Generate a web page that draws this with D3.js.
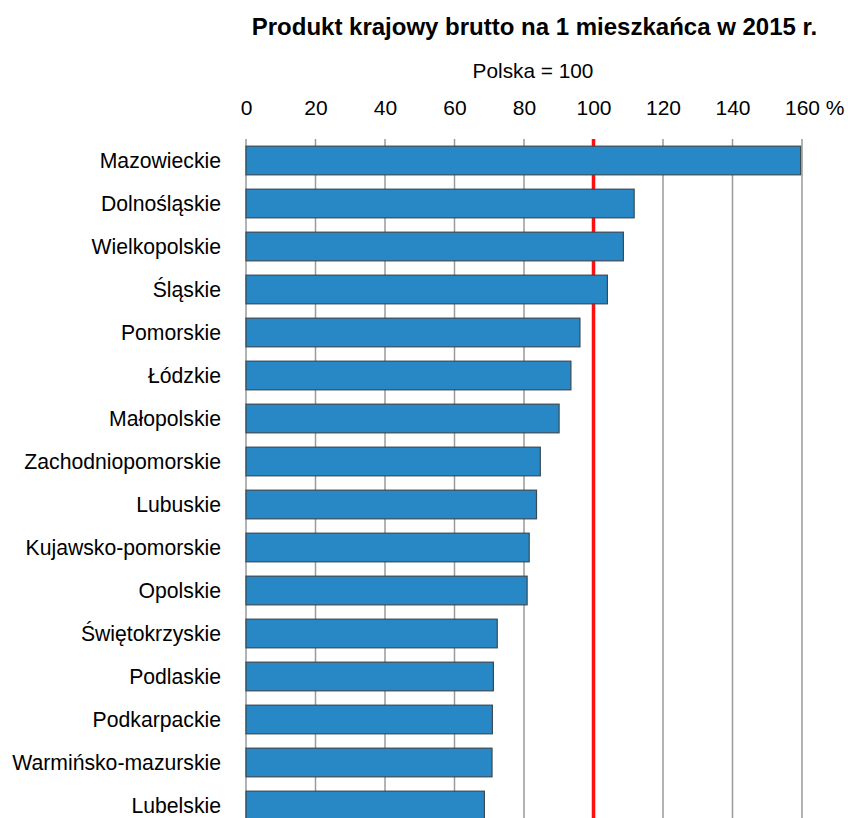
<!DOCTYPE html>
<html>
<head>
<meta charset="utf-8">
<script src="https://cdn.jsdelivr.net/npm/d3@7"></script>
<style>
  body { margin: 0; background: #fff; }
  text { font-family: "Liberation Sans", Arial, sans-serif; fill: #000; }
</style>
</head>
<body>
<script>
const regions = ['Mazowieckie', 'Dolnośląskie', 'Wielkopolskie', 'Śląskie', 'Pomorskie',
    'Łódzkie', 'Małopolskie', 'Zachodniopomorskie', 'Lubuskie', 'Kujawsko-pomorskie',
    'Opolskie', 'Świętokrzyskie', 'Podlaskie', 'Podkarpackie', 'Warmińsko-mazurskie', 'Lubelskie'];
const gdpIndex = [159.6, 111.7, 108.6, 104.0, 96.1, 93.5, 90.1, 84.7, 83.6, 81.5,
    80.9, 72.3, 71.2, 70.9, 70.8, 68.6];
const tickValues = [0, 20, 40, 60, 80, 100, 120, 140, 160];
const refValue = 100;

const width = 848;
const height = 818;
const margin = {top: 139, left: 246, right: 46};

const svg = d3.select('body').append('svg')
    .attr('width', width)
    .attr('height', height);

const x = d3.scaleLinear()
    .domain([0, 160])
    .range([margin.left, width - margin.right]);

const y = d3.scaleBand()
    .domain(regions)
    .range([margin.top, margin.top + regions.length * 43])
    .paddingInner(1 / 3)
    .paddingOuter(1 / 6);

const bottom = y.range()[1];

// gridlines
svg.append('g')
    .selectAll('line')
    .data(tickValues)
    .enter().append('line')
    .attr('x1', d => x(d))
    .attr('x2', d => x(d))
    .attr('y1', margin.top)
    .attr('y2', bottom)
    .attr('stroke', '#9a9a9a')
    .attr('stroke-width', 1.5);

// red reference line (Polska = 100)
svg.append('line')
    .attr('x1', x(refValue))
    .attr('x2', x(refValue))
    .attr('y1', margin.top)
    .attr('y2', bottom)
    .attr('stroke', '#ff1010')
    .attr('stroke-width', 3.5);

// bars
svg.append('g')
    .selectAll('rect')
    .data(gdpIndex)
    .enter().append('rect')
    .attr('x', x(0))
    .attr('y', (d, i) => y(regions[i]))
    .attr('width', d => x(d) - x(0))
    .attr('height', y.bandwidth())
    .attr('fill', '#2888c5')
    .attr('stroke', '#3a4a55')
    .attr('stroke-width', 1.2);

// top axis
const xAxis = d3.axisTop(x)
    .tickValues(tickValues)
    .tickSize(0)
    .tickPadding(0);

const axisG = svg.append('g')
    .attr('transform', 'translate(0,115)')
    .call(xAxis);
axisG.select('.domain').remove();
axisG.selectAll('text')
    .style('font-size', '21px')
    .attr('fill', '#000')
    .attr('dy', 0);

// put the % after the last label, keeping the number centred on its tick
const lastTick = axisG.selectAll('.tick text').filter(d => d === 160);
const numW = lastTick.node().getComputedTextLength();
lastTick.attr('text-anchor', 'start')
    .attr('x', -numW / 2)
    .append('tspan')
    .text(' %');

// category labels
svg.append('g')
    .selectAll('text')
    .data(regions)
    .enter().append('text')
    .attr('x', margin.left - 25)
    .attr('y', d => y(d) + y.bandwidth() / 2)
    .attr('dy', '0.36em')
    .attr('text-anchor', 'end')
    .style('font-size', '21.2px')
    .text(d => d);

// titles
svg.append('text')
    .attr('x', 534.5)
    .attr('y', 35)
    .attr('text-anchor', 'middle')
    .style('font-size', '24px')
    .style('font-weight', 'bold')
    .text('Produkt krajowy brutto na 1 mieszkańca w 2015 r.');

svg.append('text')
    .attr('x', 533)
    .attr('y', 78)
    .attr('text-anchor', 'middle')
    .style('font-size', '20.8px')
    .text('Polska = 100');
</script>
</body>
</html>
